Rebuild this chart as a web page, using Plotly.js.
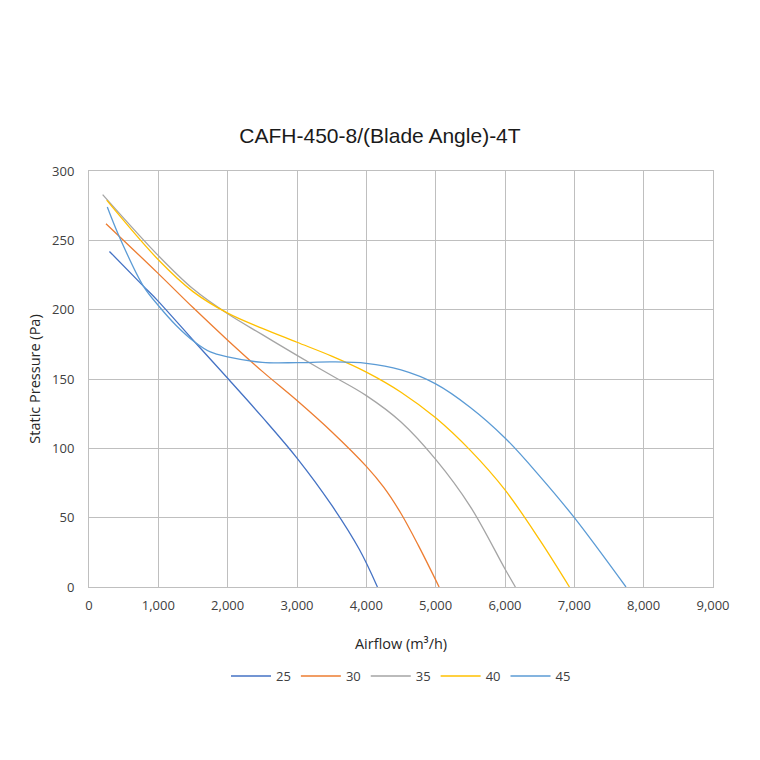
<!DOCTYPE html>
<html>
<head>
<meta charset="utf-8">
<script src="https://cdn.plot.ly/plotly-3.0.1.min.js"></script>
<style>
  html, body { margin: 0; padding: 0; background: #fff; }
  #plot { width: 760px; height: 760px; }
</style>
</head>
<body>
<div id="plot"></div>
<script>
// blade angle curves, airflow m3/h vs static pressure Pa
var names = ['25', '30', '35', '40', '45'];
var colors = ['#4472C4', '#ED7D31', '#A5A5A5', '#FFC000', '#5B9BD5'];

var flow25 = [295, 784, 1000, 1529, 2000, 2500, 3000, 3500, 3900, 4160];
var pres25 = [242, 217, 206, 176.5, 150.5, 122.5, 93, 59, 27, 0];

var flow30 = [245, 1000, 1500, 2000, 2500, 3000, 3500, 4000, 4250, 4500, 4750, 5050];
var pres30 = [262, 226, 201.5, 178, 155.5, 134.5, 112, 87, 72, 53, 30, 0];

var flow35 = [197, 1000, 1500, 2000, 2500, 3000, 3500, 4000, 4500, 5000, 5500, 6000, 6150];
var pres35 = [283, 239, 215, 197, 182, 167, 152.5, 138, 119, 92, 58, 13, 0];

var flow40 = [255, 1000, 1500, 2000, 2500, 3000, 3500, 4000, 4500, 5000, 5500, 6000, 6500, 6930];
var pres40 = [279, 236, 213, 197.5, 186.5, 176.5, 166.5, 155, 140.5, 122, 98.5, 70, 34, 0];

var flow45 = [264, 437, 784, 1000, 1250, 1529, 1750, 2000, 2500, 3000, 3500, 4000, 4500, 5000, 5500, 6000, 6500, 7000, 7745];
var pres45 = [274, 252.6, 217, 203, 189, 176.5, 169.5, 166, 162, 161.8, 162.3, 161.3, 156.5, 146.5, 129.5, 107.5, 80, 50, 0];

(function (document, window) {
    document.addEventListener("DOMContentLoaded", function () {
        var flows = [flow25, flow30, flow35, flow40, flow45];
        var pressures = [pres25, pres30, pres35, pres40, pres45];

        var plotData = [];
        for (var i = 0; i < names.length; i++) {
            plotData.push({
                name: names[i],
                x: flows[i],
                y: pressures[i],
                type: 'scatter',
                mode: 'lines',
                line: { color: colors[i], width: 1.3, shape: 'spline', smoothing: 1 }
            });
        }

        var axisFont = { family: 'Open Sans, Noto Sans, sans-serif', size: 13, color: '#404040' };

        var layout = {
            width: 760,
            height: 760,
            paper_bgcolor: '#ffffff',
            plot_bgcolor: '#ffffff',
            margin: { l: 89, r: 47, t: 171, b: 173 },
            title: {
                text: 'CAFH-450-8/(Blade Angle)-4T',
                font: { family: 'Liberation Sans, Arial, sans-serif', size: 21, color: '#1a1a1a' },
                x: 0.5,
                xanchor: 'center',
                y: 0.822,
                yanchor: 'middle'
            },
            xaxis: {
                range: [0, 9000],
                dtick: 1000,
                tickformat: ',d',
                showgrid: true,
                gridcolor: '#bfbfbf',
                gridwidth: 1,
                zeroline: false,
                showline: true,
                linecolor: '#bfbfbf',
                mirror: true,
                ticks: '',
                ticklabelstandoff: 6,
                tickfont: axisFont,
                title: { text: 'Airflow (m³/h)', font: { family: 'Open Sans, Noto Sans, sans-serif', size: 14.5, color: '#262626' }, standoff: 26 }
            },
            yaxis: {
                range: [0, 300],
                dtick: 50,
                showgrid: true,
                gridcolor: '#bfbfbf',
                gridwidth: 1,
                zeroline: false,
                showline: true,
                linecolor: '#bfbfbf',
                mirror: true,
                ticks: '',
                ticklabelstandoff: 11,
                tickfont: axisFont,
                title: { text: 'Static Pressure (Pa)', font: { family: 'Open Sans, Noto Sans, sans-serif', size: 14.5, color: '#262626' }, standoff: 8 }
            },
            showlegend: true,
            legend: {
                orientation: 'h',
                x: 0.5,
                xanchor: 'center',
                y: -0.178,
                yanchor: 'top',
                font: { family: 'Open Sans, Noto Sans, sans-serif', size: 13, color: '#404040' },
                itemwidth: 40
            }
        };

        Plotly.newPlot('plot', plotData, layout, { displayModeBar: false, staticPlot: true });
    });
})(document, window);
</script>
</body>
</html>
